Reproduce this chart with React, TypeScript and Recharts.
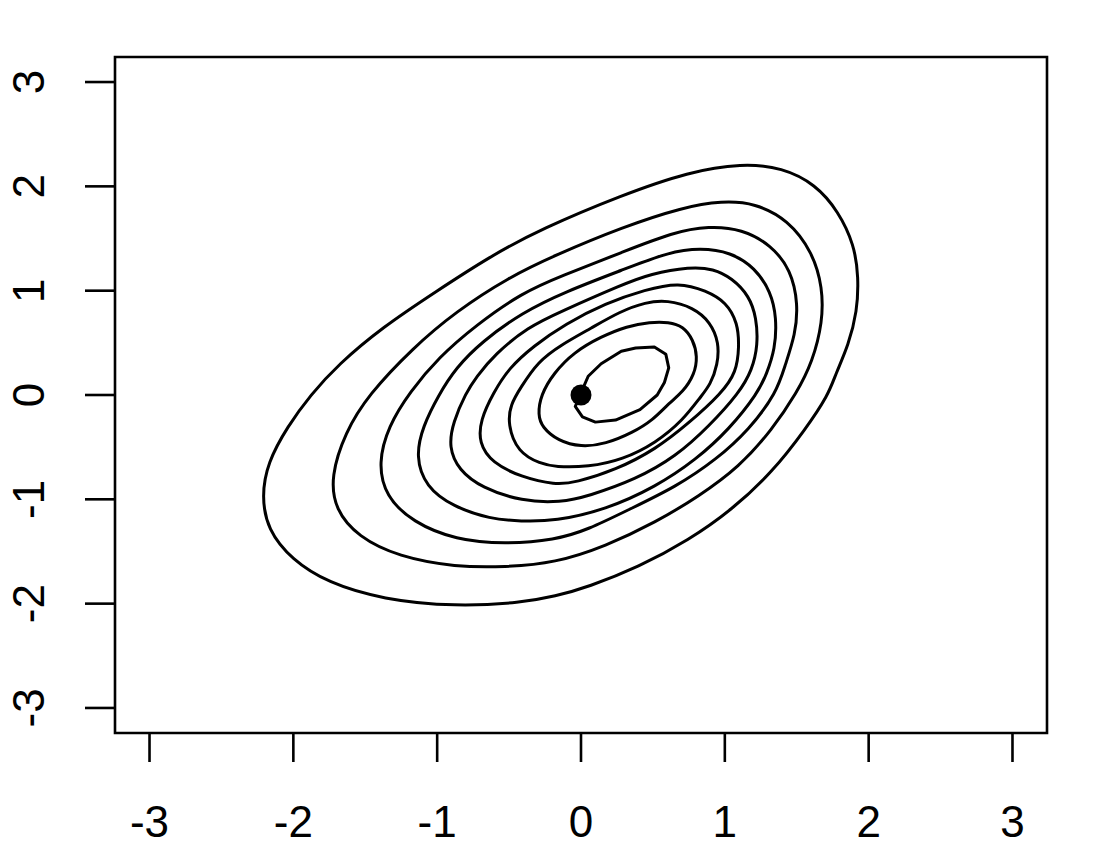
import { ComposedChart, Line, Scatter, XAxis, YAxis, ReferenceArea } from "recharts";

type Pt = [number, number];

const axisTicks = [-3, -2, -1, 0, 1, 2, 3];
const axisDomain: [number, number] = [-3.24, 3.24];

// contour lines, outermost first (x, y)
const level1: Pt[] = [
  [1.33, -0.74], [1.05, -1.1], [0.75, -1.39], [0.4, -1.65], [0.05, -1.84], [-0.18, -1.93],
  [-0.41, -1.99], [-0.87, -2.03], [-1.38, -1.96], [-1.76, -1.8], [-2.01, -1.58], [-2.18, -1.29],
  [-2.22, -0.97], [-2.18, -0.65], [-2.04, -0.3], [-1.88, 0.0], [-1.69, 0.29], [-1.38, 0.65],
  [-1.01, 0.99], [-0.63, 1.33], [-0.28, 1.59], [0.29, 1.92], [0.75, 2.14], [1.12, 2.22],
  [1.4, 2.18], [1.63, 2.02], [1.79, 1.76], [1.9, 1.44], [1.93, 1.13], [1.92, 0.8],
  [1.86, 0.48], [1.77, 0.2], [1.72, 0.0], [1.56, -0.33],
];
const level2: Pt[] = [
  [1.1, -0.69], [0.82, -0.97], [0.52, -1.22], [0.17, -1.45], [-0.18, -1.61], [-0.53, -1.65],
  [-0.87, -1.65], [-1.27, -1.55], [-1.55, -1.36], [-1.71, -1.1], [-1.74, -0.78], [-1.64, -0.36],
  [-1.48, 0.0], [-1.17, 0.45], [-0.87, 0.8], [-0.5, 1.13], [-0.18, 1.34], [0.29, 1.61],
  [0.71, 1.8], [0.98, 1.86], [1.21, 1.84], [1.44, 1.68], [1.61, 1.37], [1.68, 1.03],
  [1.68, 0.7], [1.61, 0.32], [1.5, 0.02], [1.33, -0.33],
];
const level3: Pt[] = [
  [0.94, -0.62], [0.66, -0.88], [0.33, -1.1], [0.05, -1.29], [-0.18, -1.39], [-0.53, -1.43],
  [-0.87, -1.39], [-1.17, -1.22], [-1.36, -0.97], [-1.41, -0.65], [-1.34, -0.3], [-1.19, 0.03],
  [-0.99, 0.36], [-0.73, 0.67], [-0.41, 0.98], [-0.14, 1.14], [0.29, 1.37], [0.64, 1.56],
  [0.89, 1.62], [1.12, 1.59], [1.32, 1.44], [1.46, 1.2], [1.51, 0.87], [1.49, 0.58],
  [1.42, 0.29], [1.36, 0.02], [1.17, -0.33],
];
const level4: Pt[] = [
  [0.8, -0.62], [0.52, -0.88], [0.17, -1.1], [-0.18, -1.21], [-0.42, -1.21], [-0.63, -1.19],
  [-0.89, -1.07], [-1.08, -0.88], [-1.15, -0.59], [-1.1, -0.3], [-0.99, 0.0], [-0.87, 0.26],
  [-0.69, 0.51], [-0.41, 0.79], [-0.11, 0.99], [0.29, 1.2], [0.61, 1.37], [0.83, 1.41],
  [1.04, 1.37], [1.21, 1.22], [1.32, 0.99], [1.36, 0.74], [1.35, 0.44], [1.29, 0.2],
  [1.23, 0.02], [1.03, -0.33],
];
const level5: Pt[] = [
  [0.66, -0.59], [0.38, -0.81], [0.05, -0.97], [-0.14, -1.03], [-0.41, -1.02], [-0.69, -0.89],
  [-0.85, -0.72], [-0.92, -0.5], [-0.89, -0.26], [-0.8, 0.02], [-0.73, 0.17], [-0.6, 0.39],
  [-0.37, 0.65], [-0.14, 0.8], [0.29, 1.06], [0.48, 1.16], [0.76, 1.23], [0.92, 1.21],
  [1.05, 1.12], [1.17, 0.95], [1.22, 0.74], [1.23, 0.48], [1.19, 0.24], [1.1, 0.02],
  [0.89, -0.3],
];
const level6: Pt[] = [
  [0.52, -0.52], [0.24, -0.72], [-0.04, -0.84], [-0.18, -0.86], [-0.41, -0.79], [-0.62, -0.65],
  [-0.71, -0.46], [-0.7, -0.24], [-0.61, 0.02], [-0.5, 0.26], [-0.33, 0.47], [-0.11, 0.68],
  [0.17, 0.88], [0.45, 1.01], [0.68, 1.08], [0.87, 1.0], [1.01, 0.89], [1.09, 0.69],
  [1.1, 0.46], [1.08, 0.22], [0.98, 0.02], [0.75, -0.27],
];
const level7: Pt[] = [
  [0.52, -0.46], [0.29, -0.62], [0.05, -0.69], [-0.18, -0.69], [-0.28, -0.66], [-0.44, -0.55],
  [-0.51, -0.28], [-0.49, -0.09], [-0.42, 0.07], [-0.3, 0.32], [-0.14, 0.48], [0.07, 0.64],
  [0.27, 0.8], [0.45, 0.89], [0.6, 0.91], [0.78, 0.84], [0.9, 0.7], [0.96, 0.5],
  [0.95, 0.29], [0.9, 0.1], [0.83, -0.02], [0.71, -0.24],
];
const level8: Pt[] = [
  [0.36, -0.36], [0.17, -0.47], [0.0, -0.5], [-0.16, -0.44], [-0.27, -0.31], [-0.3, -0.19],
  [-0.28, 0.0], [-0.19, 0.21], [-0.05, 0.41], [0.14, 0.56], [0.32, 0.66], [0.48, 0.7],
  [0.61, 0.7], [0.71, 0.66], [0.78, 0.53], [0.81, 0.37], [0.79, 0.2], [0.71, 0.03],
  [0.61, -0.08], [0.5, -0.24],
];
const level9: Pt[] = [
  [0.0, 0.02], [0.05, 0.18], [0.14, 0.3], [0.28, 0.42], [0.38, 0.45], [0.51, 0.46],
  [0.59, 0.39], [0.61, 0.26], [0.58, 0.12], [0.53, 0.0], [0.41, -0.14], [0.24, -0.24],
  [0.1, -0.26], [0.01, -0.21], [-0.04, -0.11],
];

const peak = [{ x: 0, y: 0 }];

const smoothLevels = [level1, level2, level3, level4, level5, level6, level7, level8];

const FONT = '"Liberation Sans", Arial, Helvetica, sans-serif';
const INK = "#000";

const toRows = (pts: Pt[]) => pts.map(([x, y]) => ({ x, y }));

function XTick({ x, y, payload }: any) {
  return (
    <text x={x} y={y + 73} textAnchor="middle" fontSize={44} fontFamily={FONT} fill={INK}>
      {payload.value}
    </text>
  );
}

function YTick({ x, y, payload }: any) {
  const bx = x - 39;
  return (
    <text
      x={bx}
      y={y}
      transform={`rotate(-90, ${bx}, ${y})`}
      textAnchor="middle"
      fontSize={44}
      fontFamily={FONT}
      fill={INK}
    >
      {payload.value}
    </text>
  );
}

export default function App() {
  return (
    <div style={{ position: "absolute", left: 0, top: 0, width: 1104, height: 849, background: "#fff" }}>
      <ComposedChart width={1104} height={849} margin={{ top: 57, right: 57, left: 0, bottom: 0 }}>
        <XAxis
          type="number"
          dataKey="x"
          domain={axisDomain}
          ticks={axisTicks}
          allowDataOverflow
          axisLine={false}
          tickLine={{ stroke: INK, strokeWidth: 2.6 }}
          tickSize={29}
          tick={<XTick />}
          height={116}
          interval={0}
        />
        <YAxis
          type="number"
          dataKey="y"
          domain={axisDomain}
          ticks={axisTicks}
          allowDataOverflow
          axisLine={false}
          tickLine={{ stroke: INK, strokeWidth: 2.6 }}
          tickSize={30}
          tick={<YTick />}
          width={115}
          interval={0}
        />
        <ReferenceArea
          x1={axisDomain[0]}
          x2={axisDomain[1]}
          y1={axisDomain[0]}
          y2={axisDomain[1]}
          fill="none"
          fillOpacity={0}
          stroke={INK}
          strokeOpacity={1}
          strokeWidth={2.6}
        />
        {smoothLevels.map((lvl, i) => (
          <Line
            key={i}
            data={toRows(lvl)}
            dataKey="y"
            type="basisClosed"
            stroke={INK}
            strokeWidth={3}
            dot={false}
            activeDot={false}
            isAnimationActive={false}
          />
        ))}
        <Line
          data={toRows(level9)}
          dataKey="y"
          type="linearClosed"
          stroke={INK}
          strokeWidth={3}
          strokeLinejoin="round"
          dot={false}
          activeDot={false}
          isAnimationActive={false}
        />
        <Scatter
          data={peak}
          dataKey="y"
          fill={INK}
          shape={(p: any) => <circle cx={p.cx} cy={p.cy} r={10.5} fill={INK} />}
          isAnimationActive={false}
        />
      </ComposedChart>
    </div>
  );
}
